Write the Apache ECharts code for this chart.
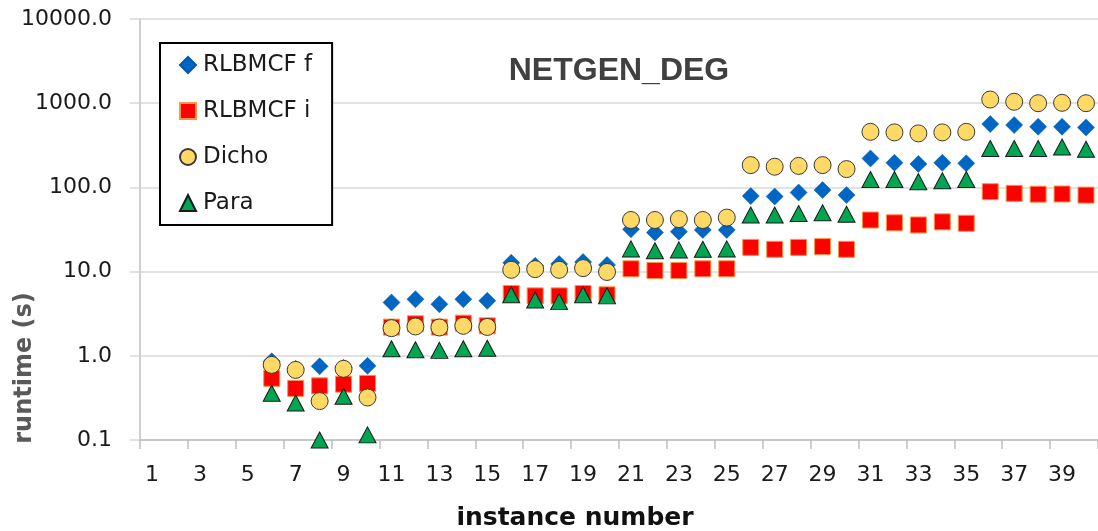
<!DOCTYPE html>
<html>
<head>
<meta charset="utf-8">
<script src="https://cdn.jsdelivr.net/npm/echarts@6/dist/echarts.min.js"></script>
<style>html,body{margin:0;padding:0;background:#fff;}#c{width:1098px;height:531px;}</style>
</head>
<body>
<div id="c"></div>
<script>
var categories = [];
for (var i = 1; i <= 40; i++) categories.push(String(i));

var rlbmcfF = [null,null,null,null,null,
  0.86,0.70,0.75,0.72,0.76,
  4.3,4.7,4.1,4.7,4.5,
  12.7,11.7,12.3,13.0,12.0,
  31.8,29.1,29.8,31.2,31.2,
  79,78,87,93,81,
  221,196,190,196,193,
  565,550,525,525,516];
var rlbmcfI = [null,null,null,null,null,
  0.54,0.41,0.44,0.46,0.47,
  2.19,2.40,2.19,2.44,2.27,
  5.5,5.15,5.15,5.5,5.3,
  10.8,10.3,10.3,10.8,10.8,
  19.4,18.4,19.4,19.8,18.4,
  41,38,35.8,39,37.5,
  89,85,83,83.5,81];
var dicho = [null,null,null,null,null,
  0.78,0.68,0.29,0.70,0.32,
  2.13,2.23,2.17,2.27,2.20,
  10.5,10.7,10.5,11.0,9.9,
  41,41,42,41,43.8,
  184,176,180,184,165,
  457,450,438,450,457,
  1106,1040,1000,1010,1000];
var para = [null,null,null,null,null,
  0.36,0.275,0.10,0.33,0.115,
  1.21,1.18,1.16,1.21,1.23,
  5.3,4.6,4.4,5.3,5.15,
  18.6,17.7,18.1,18.4,18.6,
  47,47,49,50,48,
  124,124,117,120,124,
  290,290,290,302,284];
var seriesNames = ['RLBMCF f','RLBMCF i','Dicho','Para'];

var chart = echarts.init(document.getElementById('c'));
var axisGray = '#BFBFBF';
var gridGray = '#D9D9D9';
var labelFont = 'DejaVu Sans';

chart.setOption({
  animation: false,
  backgroundColor: '#ffffff',
  title: [{
    text: 'NETGEN_DEG',
    left: 614, top: 50, textAlign: 'center',
    textStyle: {fontFamily: 'Liberation Sans', fontWeight: 'bold', fontSize: 32, color: '#404040'}
  }],
  legend: {
    orient: 'vertical',
    left: 160, top: 43,
    padding: [8, 20, 8, 19],
    itemGap: 18,
    itemWidth: 16, itemHeight: 16,
    borderColor: '#000', borderWidth: 2,
    backgroundColor: '#fff',
    textStyle: {fontFamily: labelFont, fontSize: 23, color: '#1a1a1a', lineHeight: 28, padding: [0, 0, 0, 2]},
    data: seriesNames
  },
  grid: {left: 140, top: 19, bottom: 91, right: -6, containLabel: false},
  xAxis: {
    type: 'category',
    data: categories,
    boundaryGap: true,
    axisLine: {lineStyle: {color: axisGray, width: 1.5}},
    axisTick: {show: true, interval: 1, length: 9, lineStyle: {color: axisGray, width: 1.5}},
    axisLabel: {interval: 1, margin: 24, fontFamily: labelFont, fontSize: 22, color: '#1a1a1a'},
    splitLine: {show: false}
  },
  yAxis: {
    type: 'log',
    logBase: 10,
    min: 0.1, max: 10000,
    axisLine: {show: true, lineStyle: {color: axisGray, width: 1.5}},
    axisTick: {show: true, length: 10, lineStyle: {color: gridGray, width: 1.5}},
    axisLabel: {margin: 28, fontFamily: labelFont, fontSize: 22, color: '#1a1a1a',
      formatter: function (v) { return Number(v).toFixed(1); }},
    splitLine: {show: true, lineStyle: {color: gridGray, width: 1.5}}
  },
  graphic: [
    {type: 'text', x: 25, y: 368, rotation: Math.PI / 2,
     style: {text: 'runtime (s)', fontFamily: 'DejaVu Sans', fontWeight: 'bold', fontSize: 24,
             fill: '#595959', textAlign: 'center', textVerticalAlign: 'middle'}},
    {type: 'text', x: 575, y: 518,
     style: {text: 'instance number', fontFamily: 'DejaVu Sans', fontWeight: 'bold', fontSize: 25,
             fill: '#111', textAlign: 'center', textVerticalAlign: 'middle'}}
  ],
  series: [
    {name: seriesNames[0], type: 'scatter', data: rlbmcfF, symbol: 'diamond', symbolSize: [17, 17],
     itemStyle: {opacity: 1, color: '#0066C4', borderColor: '#0058B0', borderWidth: 0.5}},
    {name: seriesNames[1], type: 'scatter', data: rlbmcfI, symbol: 'rect', symbolSize: 16,
     itemStyle: {opacity: 1, color: '#FF0000', borderColor: '#F79646', borderWidth: 1}},
    {name: seriesNames[2], type: 'scatter', data: dicho, symbol: 'circle', symbolSize: 17,
     itemStyle: {opacity: 1, color: '#FFD966', borderColor: '#3a3a3a', borderWidth: 1}},
    {name: seriesNames[3], type: 'scatter', data: para, symbol: 'triangle', symbolSize: [17, 16],
     itemStyle: {opacity: 1, color: '#00A650', borderColor: '#1a1a1a', borderWidth: 1}}
  ]
});
</script>
</body>
</html>
